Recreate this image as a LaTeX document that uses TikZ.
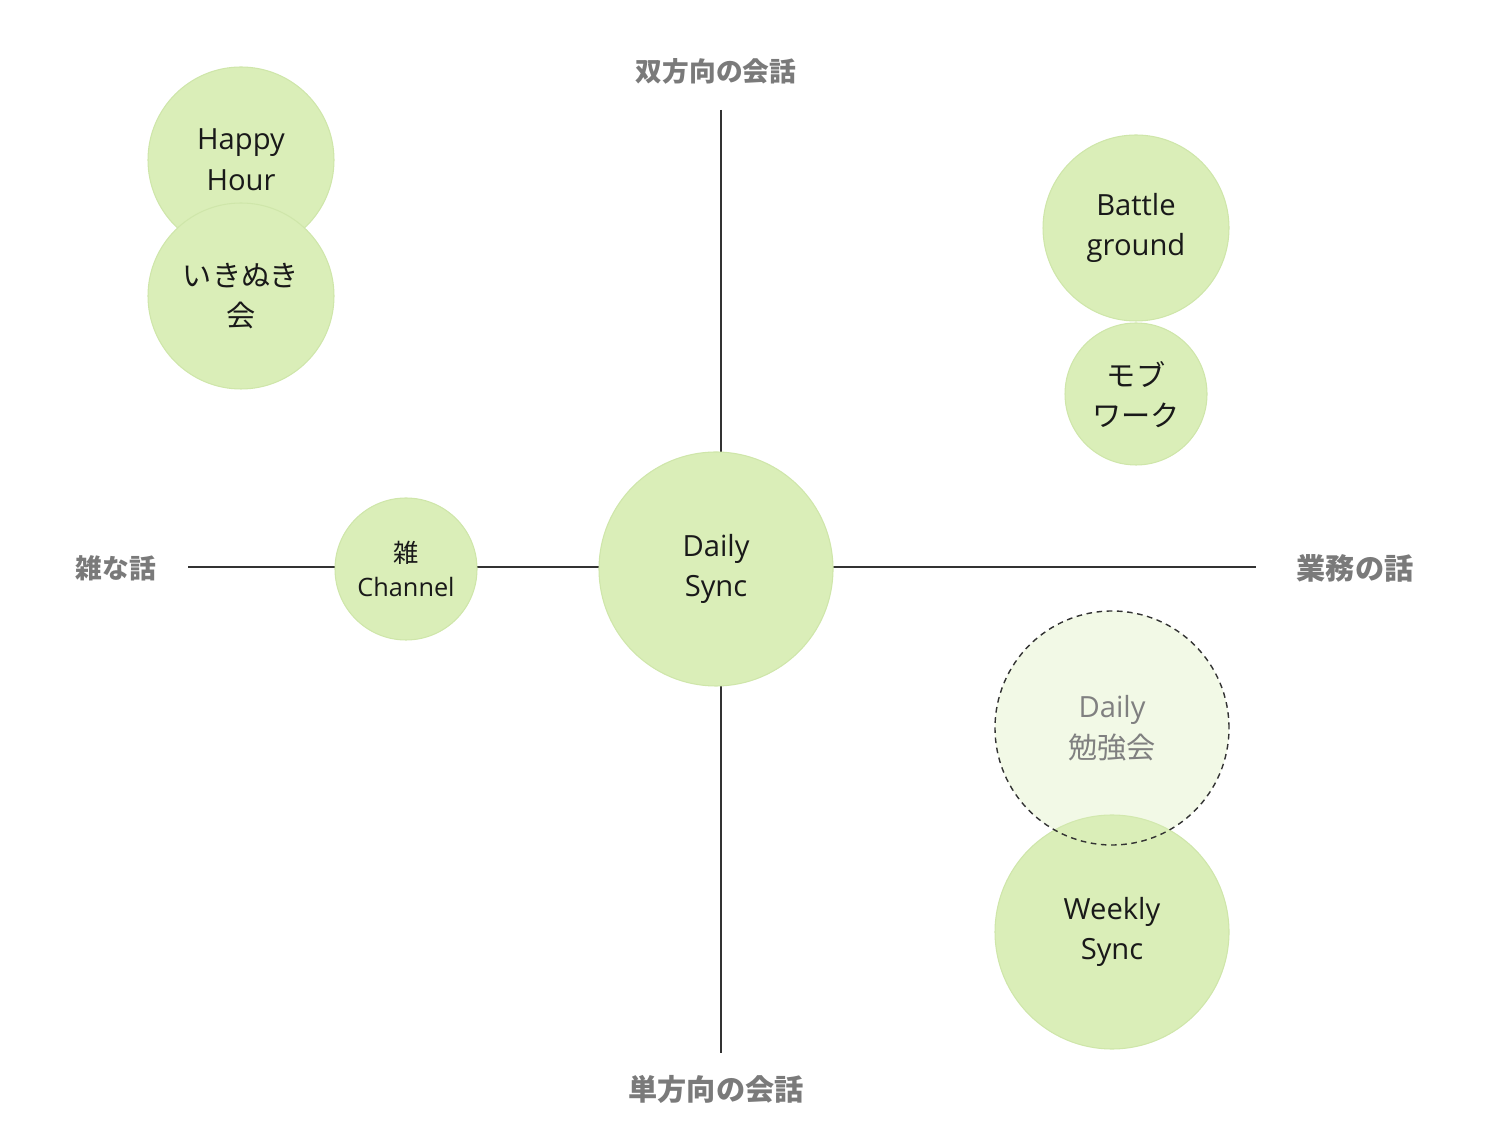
\documentclass[tikz,border=0pt]{standalone}
\usepackage{fontspec}
\usepackage{xcolor}
\usepackage{tikz}
\setmainfont{Open Sans}
\newfontfamily\jp{Noto Sans CJK JP}

\definecolor{bubblegreen}{HTML}{DAEEB8}
\definecolor{bubbleedge}{HTML}{CFE6AA}
\definecolor{axisgray}{HTML}{7A7A7A}
\definecolor{faintgray}{HTML}{808080}

\tikzset{
  bubble/.style={circle, fill=bubblegreen, draw=bubbleedge, line width=0.3pt,
    inner sep=0pt, align=center, text=black!90,
    font=\fontsize{8.3}{11.6}\selectfont},
  axislabel/.style={text=axisgray, font=\jp\bfseries\fontsize{7.6}{9}\selectfont},
}

\begin{document}
\begin{tikzpicture}[x=0.1mm, y=-0.1mm]
\useasboundingbox (0,0) rectangle (1494,1146);

% axes
\coordinate (vtop) at (721,110);
\coordinate (vbot) at (721,1053);
\coordinate (hleft) at (188,567);
\coordinate (hright) at (1256,567);
\draw[line width=0.4pt, black!80] (vtop) -- (vbot);
\draw[line width=0.4pt, black!80] (hleft) -- (hright);

\node[axislabel] (twoway) at (716,71) {双方向の会話};
\node[axislabel, font=\jp\bfseries\fontsize{8.3}{9}\selectfont] (oneway) at (716,1089) {単方向の会話};
\node[axislabel] (casual) at (116,568) {雑な話};
\node[axislabel, font=\jp\bfseries\fontsize{8.3}{9}\selectfont] (work) at (1355,568) {業務の話};

% bubbles
\node[bubble, minimum size=18.6mm] (happy) at (241,160) {Happy\\Hour};
\node[bubble, minimum size=18.6mm] (ikinuki) at (241,296) {\jp いきぬき\\\jp 会};
\node[bubble, minimum size=18.6mm] (battle) at (1136,228) {Battle\\ground};
\node[bubble, minimum size=14.2mm, text depth=0pt] (mob) at (1136,394) {\jp モブ\\\jp ワーク\rule{0pt}{1.2ex}};
\node[bubble, minimum size=14.2mm, font=\fontsize{7.2}{9.6}\selectfont] (zatsu) at (406,569) {\jp 雑\\Channel};
\node[bubble, minimum size=23.4mm] (dsync) at (716,569) {Daily\\Sync};
\node[bubble, minimum size=23.4mm] (wsync) at (1112,932) {Weekly\\Sync};
\node[bubble, minimum size=23.4mm, fill opacity=0.35, text opacity=1,
  draw=black!80, dash pattern=on 1.6pt off 1.3pt, line width=0.4pt, text=faintgray] (study) at (1112,728) {Daily\\\jp 勉強会};
\end{tikzpicture}
\end{document}
